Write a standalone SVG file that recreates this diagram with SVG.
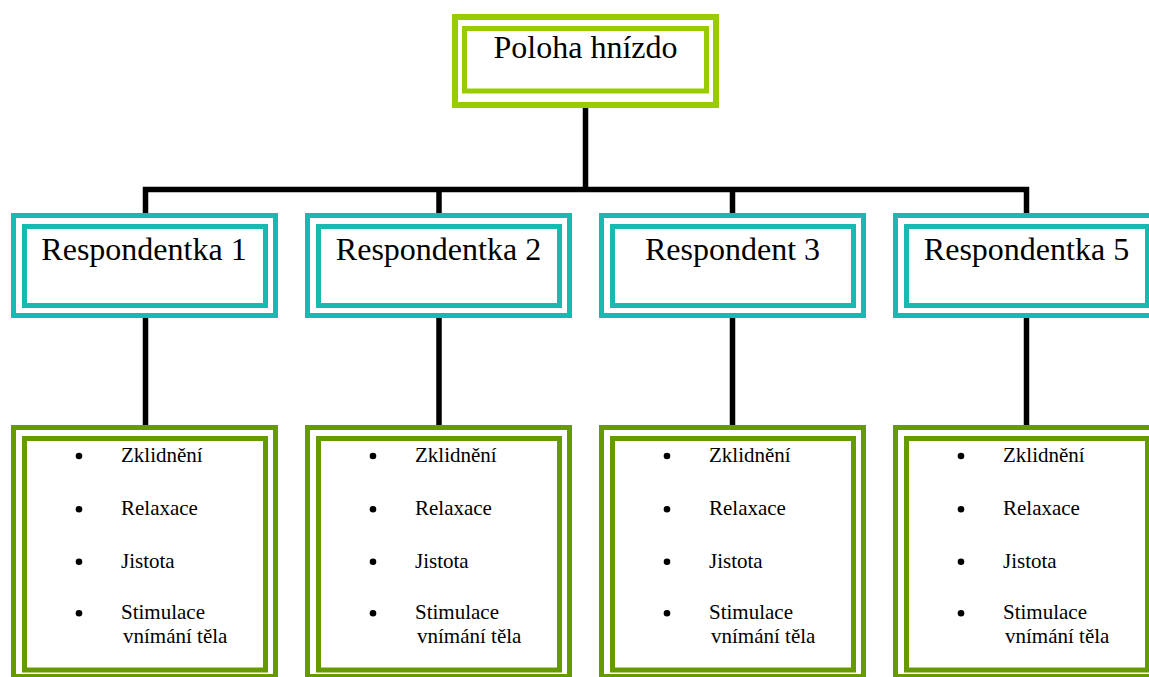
<svg xmlns="http://www.w3.org/2000/svg" width="1149" height="677" viewBox="0 0 1149 677">
<style>
.bg{fill:#ffffff}
.top{fill:none;stroke:#99cc00}
.mid{fill:none;stroke:#17b9b1;stroke-width:5}
.bot{fill:none;stroke:#669b00;stroke-width:5}
.conn{fill:none;stroke:#000000;stroke-width:5.5}
.t32{font-family:"Liberation Serif","Times New Roman",serif;font-size:32px;fill:#000;text-anchor:middle}
.t21{font-family:"Liberation Serif","Times New Roman",serif;font-size:21px;fill:#000}
.dot{fill:#000}
</style>
<rect class="bg" x="0" y="0" width="1149" height="677"/>
<g id="connectors">
<path class="conn" d="M585.5,108 V189.5 M145.5,213 V189.5 H1026.5 V213 M439,189.5 V213 M732.5,189.5 V213"/>
<path class="conn" d="M145.5,318 V425 M439,318 V425 M732.5,318 V425 M1026.5,318 V425"/>
</g>
<g id="top">
<rect class="top" x="455" y="17" width="261" height="88" stroke-width="6"/>
<rect class="top" x="464.5" y="28.5" width="242" height="62.5" stroke-width="5"/>
<text class="t32" x="585.5" y="58">Poloha hnízdo</text>
</g>
<g id="r1">
<rect class="mid" x="13.5" y="215.5" width="262" height="100"/>
<rect class="mid" x="24.5" y="226.5" width="241" height="79"/>
<text class="t32" x="144" y="260">Respondentka 1</text>
</g>
<g id="r2">
<rect class="mid" x="307.5" y="215.5" width="262" height="100"/>
<rect class="mid" x="318.5" y="226.5" width="241" height="79"/>
<text class="t32" x="438.5" y="260">Respondentka 2</text>
</g>
<g id="r3">
<rect class="mid" x="601.5" y="215.5" width="262" height="100"/>
<rect class="mid" x="612.5" y="226.5" width="241" height="79"/>
<text class="t32" x="732.5" y="260">Respondent 3</text>
</g>
<g id="r5">
<rect class="mid" x="895.5" y="215.5" width="262" height="100"/>
<rect class="mid" x="906.5" y="226.5" width="241" height="79"/>
<text class="t32" x="1026.5" y="260">Respondentka 5</text>
</g>
<g id="b1">
<rect class="bot" x="13.5" y="427.5" width="262" height="249"/>
<rect class="bot" x="24.5" y="438.5" width="241" height="231.5"/>
<circle class="dot" cx="79" cy="456" r="3.3"/><text class="t21" x="121" y="462">Zklidnění</text>
<circle class="dot" cx="79" cy="509.3" r="3.3"/><text class="t21" x="121" y="515">Relaxace</text>
<circle class="dot" cx="79" cy="561.7" r="3.3"/><text class="t21" x="121" y="567.7">Jistota</text>
<circle class="dot" cx="79" cy="613.3" r="3.3"/><text class="t21" x="121" y="619.3">Stimulace</text>
<text class="t21" x="123" y="643.3">vnímání těla</text>
</g>
<g id="b2">
<rect class="bot" x="307.5" y="427.5" width="262" height="249"/>
<rect class="bot" x="318.5" y="438.5" width="241" height="231.5"/>
<circle class="dot" cx="373" cy="456" r="3.3"/><text class="t21" x="415" y="462">Zklidnění</text>
<circle class="dot" cx="373" cy="509.3" r="3.3"/><text class="t21" x="415" y="515">Relaxace</text>
<circle class="dot" cx="373" cy="561.7" r="3.3"/><text class="t21" x="415" y="567.7">Jistota</text>
<circle class="dot" cx="373" cy="613.3" r="3.3"/><text class="t21" x="415" y="619.3">Stimulace</text>
<text class="t21" x="417" y="643.3">vnímání těla</text>
</g>
<g id="b3">
<rect class="bot" x="601.5" y="427.5" width="262" height="249"/>
<rect class="bot" x="612.5" y="438.5" width="241" height="231.5"/>
<circle class="dot" cx="667" cy="456" r="3.3"/><text class="t21" x="709" y="462">Zklidnění</text>
<circle class="dot" cx="667" cy="509.3" r="3.3"/><text class="t21" x="709" y="515">Relaxace</text>
<circle class="dot" cx="667" cy="561.7" r="3.3"/><text class="t21" x="709" y="567.7">Jistota</text>
<circle class="dot" cx="667" cy="613.3" r="3.3"/><text class="t21" x="709" y="619.3">Stimulace</text>
<text class="t21" x="711" y="643.3">vnímání těla</text>
</g>
<g id="b5">
<rect class="bot" x="895.5" y="427.5" width="262" height="249"/>
<rect class="bot" x="906.5" y="438.5" width="241" height="231.5"/>
<circle class="dot" cx="961" cy="456" r="3.3"/><text class="t21" x="1003" y="462">Zklidnění</text>
<circle class="dot" cx="961" cy="509.3" r="3.3"/><text class="t21" x="1003" y="515">Relaxace</text>
<circle class="dot" cx="961" cy="561.7" r="3.3"/><text class="t21" x="1003" y="567.7">Jistota</text>
<circle class="dot" cx="961" cy="613.3" r="3.3"/><text class="t21" x="1003" y="619.3">Stimulace</text>
<text class="t21" x="1005" y="643.3">vnímání těla</text>
</g>
</svg>
